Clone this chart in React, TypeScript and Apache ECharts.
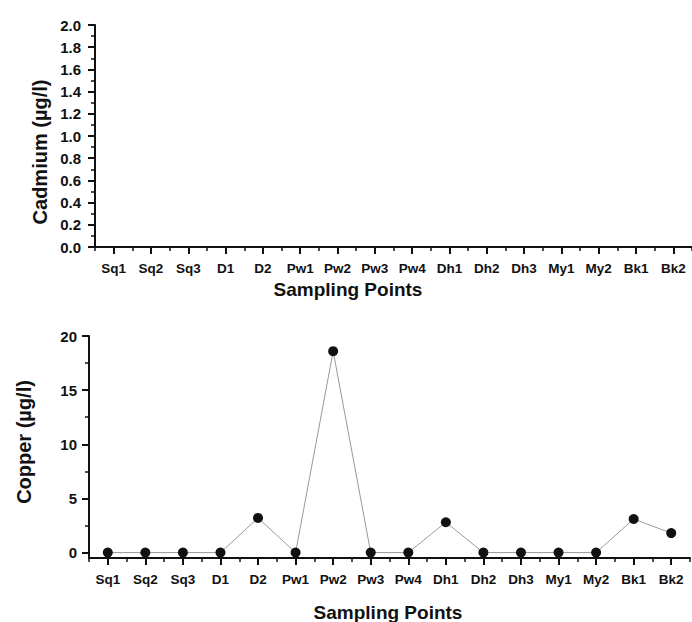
import React, { useEffect, useRef } from "react";
import * as echarts from "echarts";

// Sampling points shared by both panels
const categories = [
  "Sq1", "Sq2", "Sq3", "D1", "D2", "Pw1", "Pw2", "Pw3",
  "Pw4", "Dh1", "Dh2", "Dh3", "My1", "My2", "Bk1", "Bk2",
];

// Cadmium (µg/l) at each sampling point
const cadmium = [0, 0, 0, 0, 0, 0, 0, 0, 0, 0, 0, 0, 0, 0, 0, 0];

// Copper (µg/l) at each sampling point
const copper = [0, 0, 0, 0, 3.2, 0, 18.6, 0, 0, 2.8, 0, 0, 0, 0, 3.1, 1.8];

// Copper axis tick positions
const copperTicks = [0, 5, 10, 15, 20];
const copperMinorTicks = [2.5, 7.5, 12.5, 17.5];

const FONT = "'Liberation Sans', Arial, Helvetica, sans-serif";
const INK = "#111";

const labelStyle = {
  color: INK,
  fontFamily: FONT,
  fontWeight: "bold" as const,
};

// Category axis pair: one carries the labels and the ticks under each point,
// the other the short ticks between neighbouring points
function pointAxis(gridIndex: number) {
  return [
    {
      type: "category",
      gridIndex,
      data: categories,
      boundaryGap: true,
      position: "bottom",
      axisLine: { show: true, onZero: false, lineStyle: { color: INK, width: 2 } },
      axisTick: { show: true, alignWithLabel: true, interval: 0, length: 7, lineStyle: { color: INK, width: 2 } },
      axisLabel: {
        ...labelStyle,
        fontSize: 13.5,
        margin: 14,
        interval: 0,
      },
      splitLine: { show: false },
    },
    {
      type: "category",
      gridIndex,
      data: categories,
      boundaryGap: true,
      position: "bottom",
      axisLine: { show: false, onZero: false },
      axisTick: { show: true, alignWithLabel: false, interval: 0, length: 4, lineStyle: { color: INK, width: 1.5 } },
      axisLabel: { show: false },
      splitLine: { show: false },
    },
  ];
}

export default function App() {
  const ref = useRef<HTMLDivElement>(null);

  useEffect(() => {
    if (!ref.current) return;
    const chart = echarts.init(ref.current, null, { renderer: "svg" });

    const titleFont = `bold 19px ${FONT}`;

    chart.setOption({
      animation: false,
      backgroundColor: "#fff",
      grid: [
        { left: 95, right: -3, top: 25, height: 222 },
        { left: 89, right: 2, top: 336, height: 222 },
      ],
      xAxis: [...pointAxis(0), ...pointAxis(1)],
      yAxis: [
        {
          type: "value",
          gridIndex: 0,
          position: "left",
          min: 0,
          max: 2,
          interval: 0.2,
          axisLine: { show: true, onZero: false, lineStyle: { color: INK, width: 2 } },
          axisTick: { show: true, length: 7, lineStyle: { color: INK, width: 2 } },
          minorTick: { show: true, splitNumber: 2, length: 4, lineStyle: { color: INK, width: 1.5 } },
          axisLabel: {
            ...labelStyle,
            fontSize: 15,
            margin: 14,
            formatter: (v: number) => v.toFixed(1),
          },
          splitLine: { show: false },
          minorSplitLine: { show: false },
        },
        {
          type: "value",
          gridIndex: 1,
          position: "left",
          min: -0.5,
          max: 20,
          axisLine: { show: true, onZero: false, lineStyle: { color: INK, width: 2 } },
          axisTick: { show: true, customValues: copperTicks, length: 7, lineStyle: { color: INK, width: 2 } },
          axisLabel: {
            ...labelStyle,
            fontSize: 15,
            margin: 12,
            customValues: copperTicks,
          },
          splitLine: { show: false },
        },
        {
          type: "value",
          gridIndex: 1,
          position: "left",
          offset: 0,
          min: -0.5,
          max: 20,
          axisLine: { show: false, onZero: false },
          axisTick: { show: true, customValues: copperMinorTicks, length: 4, lineStyle: { color: INK, width: 1.5 } },
          axisLabel: { show: false },
          splitLine: { show: false },
        },
      ],
      series: [
        {
          name: "Cadmium",
          type: "line",
          xAxisIndex: 0,
          yAxisIndex: 0,
          data: cadmium,
          symbol: "none",
          lineStyle: { color: INK, width: 2 },
          z: 1,
        },
        {
          name: "Copper",
          type: "line",
          xAxisIndex: 2,
          yAxisIndex: 1,
          data: copper,
          symbol: "circle",
          symbolSize: 10,
          itemStyle: { color: INK },
          lineStyle: { color: "#999", width: 1 },
          z: 3,
        },
      ],
      graphic: [
        {
          type: "text",
          x: 40,
          y: 152,
          rotation: Math.PI / 2,
          style: {
            text: "Cadmium (µg/l)",
            font: `bold 20px ${FONT}`,
            fill: INK,
            textAlign: "center",
            textVerticalAlign: "middle",
          },
        },
        {
          type: "text",
          x: 348,
          y: 289.5,
          style: {
            text: "Sampling Points",
            font: titleFont,
            fill: INK,
            textAlign: "center",
            textVerticalAlign: "middle",
          },
        },
        {
          type: "text",
          x: 24,
          y: 442,
          rotation: Math.PI / 2,
          style: {
            text: "Copper (µg/l)",
            font: `bold 20px ${FONT}`,
            fill: INK,
            textAlign: "center",
            textVerticalAlign: "middle",
          },
        },
        {
          type: "text",
          x: 388,
          y: 612,
          style: {
            text: "Sampling Points",
            font: titleFont,
            fill: INK,
            textAlign: "center",
            textVerticalAlign: "middle",
          },
        },
      ],
    });

    return () => chart.dispose();
  }, []);

  return (
    <div
      ref={ref}
      style={{ position: "fixed", left: 0, top: 0, width: 692, height: 622, background: "#fff" }}
    />
  );
}
